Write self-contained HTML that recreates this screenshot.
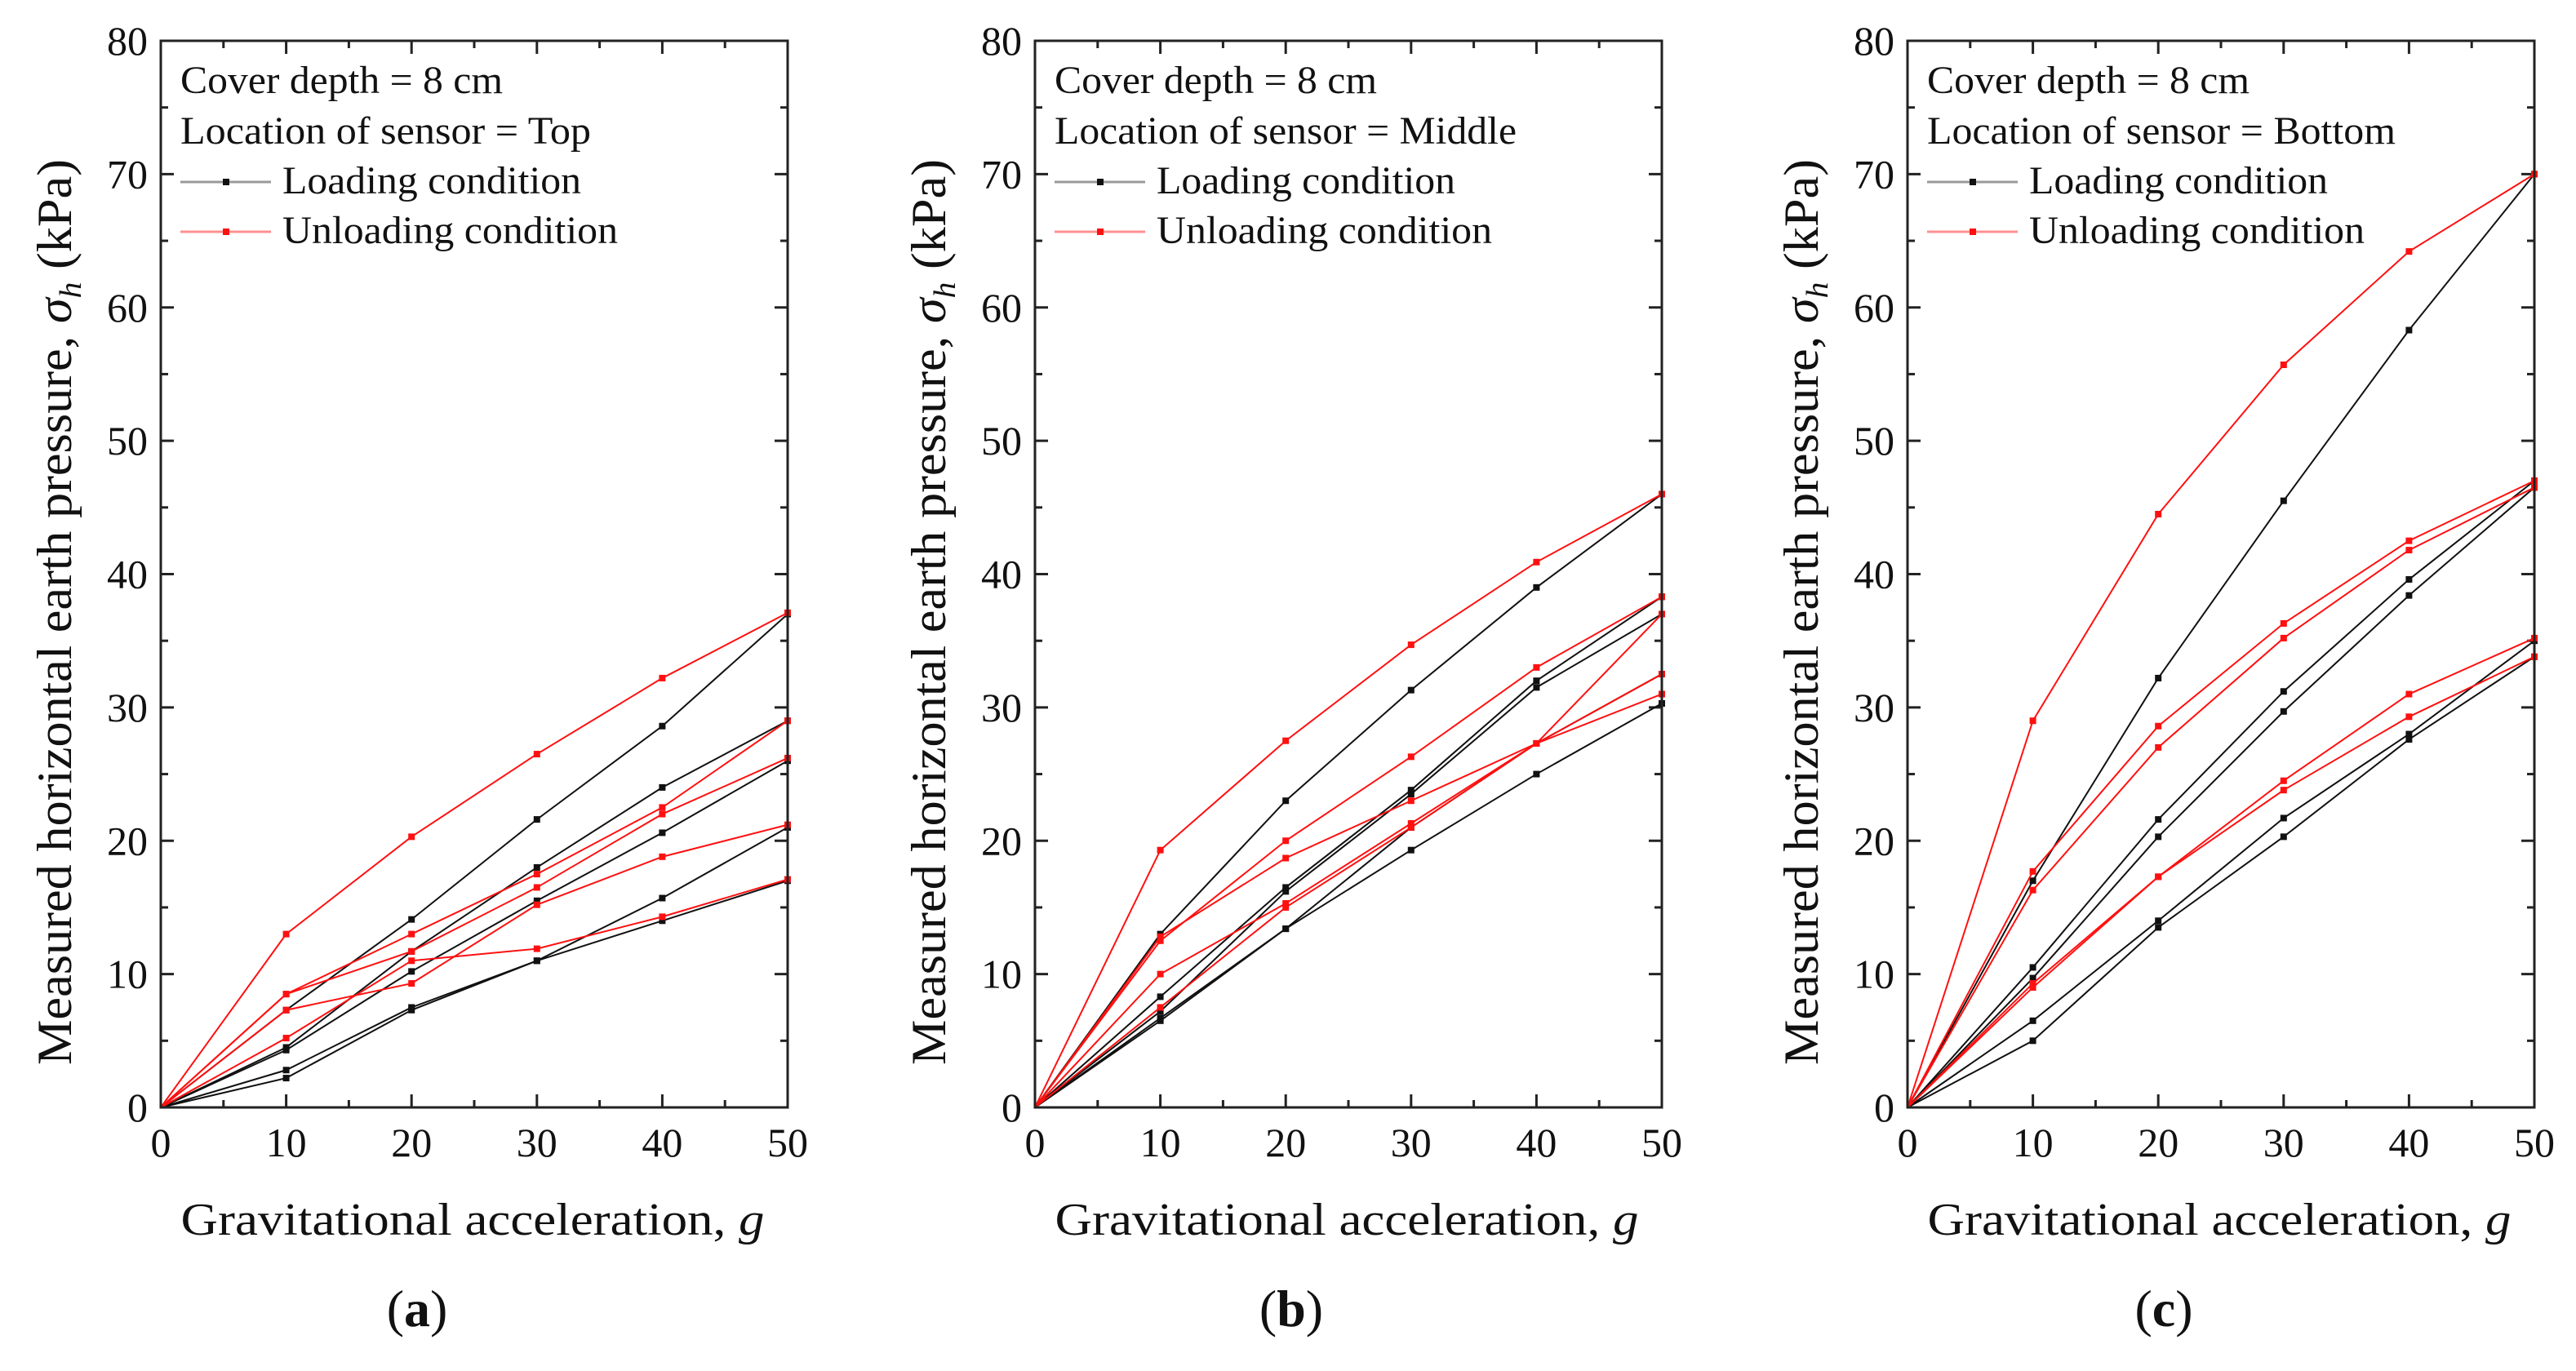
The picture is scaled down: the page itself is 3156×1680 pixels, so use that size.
<!DOCTYPE html>
<html><head><meta charset="utf-8"><style>
html,body{margin:0;padding:0;background:#fff;}
svg, svg text{font-family:"Liberation Serif","Times New Roman",serif;}
</style></head><body>
<svg id="fig" width="3156" height="1675" viewBox="0 0 3156 1675" xmlns="http://www.w3.org/2000/svg" font-family="Liberation Serif, serif"></svg>
<script>
const xCats = [0, 10, 20, 30, 40, 50];
const yTicks = [0, 10, 20, 30, 40, 50, 60, 70, 80];
const xTicks = [0, 10, 20, 30, 40, 50];
const sensors = ["Top", "Middle", "Bottom"];
const panelLabels = ["a", "b", "c"];
// Panel (a) Top
const aLoad = [
  [0, 7.3, 14.1, 21.6, 28.6, 37],
  [0, 4.5, 11.7, 18, 24, 29],
  [0, 4.3, 10.2, 15.5, 20.6, 26],
  [0, 2.8, 7.5, 11, 15.7, 21],
  [0, 2.2, 7.3, 11, 14, 17]
];
const aUnload = [
  [0, 13, 20.3, 26.5, 32.2, 37.1],
  [0, 8.5, 13, 17.5, 22.5, 29],
  [0, 8.5, 11.7, 16.5, 22, 26.2],
  [0, 7.3, 9.3, 15.2, 18.8, 21.2],
  [0, 5.2, 11, 11.9, 14.3, 17.1]
];
// Panel (b) Middle
const bLoad = [
  [0, 13, 23, 31.3, 39, 46],
  [0, 8.3, 16.5, 23.8, 32, 38.3],
  [0, 7.2, 16.2, 23.5, 31.5, 37],
  [0, 6.7, 13.4, 21, 27.3, 32.5],
  [0, 6.5, 13.4, 19.3, 25, 30.3]
];
const bUnload = [
  [0, 19.3, 27.5, 34.7, 40.9, 46],
  [0, 12.5, 20, 26.3, 33, 38.3],
  [0, 12.8, 18.7, 23, 27.3, 32.5],
  [0, 10, 15.3, 21.3, 27.3, 37],
  [0, 7.5, 15, 21, 27.3, 31]
];
// Panel (c) Bottom
const cLoad = [
  [0, 17, 32.2, 45.5, 58.3, 70],
  [0, 10.5, 21.6, 31.2, 39.6, 47],
  [0, 9.7, 20.3, 29.7, 38.4, 46.5],
  [0, 6.5, 14, 21.7, 28, 35],
  [0, 5, 13.5, 20.3, 27.6, 33.8]
];
const cUnload = [
  [0, 29, 44.5, 55.7, 64.2, 70],
  [0, 17.7, 28.6, 36.3, 42.5, 47],
  [0, 16.3, 27, 35.2, 41.8, 46.5],
  [0, 9.3, 17.3, 24.5, 31, 35.2],
  [0, 9, 17.3, 23.8, 29.3, 33.8]
];

const NS = "http://www.w3.org/2000/svg";
const svg = document.getElementById("fig");
function mk(tag, attrs, parent) {
  const e = document.createElementNS(NS, tag);
  for (const k in attrs) e.setAttribute(k, attrs[k]);
  if (tag === "text") e.setAttribute("font-family", "Liberation Serif, serif");
  (parent || svg).appendChild(e);
  return e;
}
const lefts = [197, 1268, 2337];
const W = 768, TOP = 50, BOT = 1357;
const loads = [aLoad, bLoad, cLoad];
const unloads = [aUnload, bUnload, cUnload];
const sensorLen = [503, 566, 574];

lefts.forEach((L, p) => {
  const g = mk("g", {});
  
  
  const xs = v => L + v / 50 * W;
  const ys = v => BOT - v / 80 * (BOT - TOP);
  for (let v = 0; v <= 80; v += 5) {
    const len = v % 10 === 0 ? 16 : 9;
    mk("line", {x1: L, x2: L + len, y1: ys(v), y2: ys(v), stroke: "#222", "stroke-width": 3}, g);
    mk("line", {x1: L + W, x2: L + W - len, y1: ys(v), y2: ys(v), stroke: "#222", "stroke-width": 3}, g);
  }
  for (let v = 0; v <= 50; v += 5) {
    const len = v % 10 === 0 ? 16 : 9;
    mk("line", {x1: xs(v), x2: xs(v), y1: BOT, y2: BOT - len, stroke: "#222", "stroke-width": 3}, g);
    mk("line", {x1: xs(v), x2: xs(v), y1: TOP, y2: TOP + len, stroke: "#222", "stroke-width": 3}, g);
  }
  yTicks.forEach(v => {
    const t = mk("text", {x: L - 16, y: ys(v) + 17, "font-size": 50, "text-anchor": "end", fill: "#111"}, g);
    
    
    t.textContent = v;
  });
  xTicks.forEach(v => {
    const t = mk("text", {x: xs(v), y: 1417, "font-size": 50, "text-anchor": "middle", fill: "#111"}, g);
    
    
    t.textContent = v;
  });
  const drawSeries = (arr, color, nm) => {
    arr.forEach((s, i) => {
      const pts = s.map((v, j) => xs(xCats[j]) + "," + ys(v)).join(" ");
      const pl = mk("polyline", {points: pts, fill: "none", stroke: color, "stroke-width": 2}, g);
      
      
      s.forEach((v, j) => {
        if (j === 0) return;
        const r = mk("rect", {x: xs(xCats[j]) - 4, y: ys(v) - 4, width: 8, height: 8, fill: color}, g);
        
        
      });
    });
  };
  drawSeries(loads[p], "#111", "loading");
  drawSeries(unloads[p], "#ff1010", "unloading");
  const fr = mk("rect", {x: L, y: TOP, width: W, height: BOT - TOP, fill: "none", stroke: "#222", "stroke-width": 3}, g);
  
  
  const lg = mk("g", {}, g);
  
  
  const t1 = mk("text", {x: L + 24, y: 114, "font-size": 48, fill: "#111", textLength: 395, lengthAdjust: "spacingAndGlyphs"}, lg);
  t1.textContent = "Cover depth = 8 cm";
  const t2 = mk("text", {x: L + 24, y: 176, "font-size": 48, fill: "#111", textLength: sensorLen[p], lengthAdjust: "spacingAndGlyphs"}, lg);
  t2.textContent = "Location of sensor = " + sensors[p];
  [["#111", "#999", "Loading condition", 237, 366], ["#ff1010", "#ff9090", "Unloading condition", 298, 411]].forEach(([c, lc, lab, yb, tl]) => {
    const yy = yb - 14;
    const ent = mk("g", {}, lg);
    
    
    mk("line", {x1: L + 24, x2: L + 135, y1: yy, y2: yy, stroke: lc, "stroke-width": 3}, ent);
    mk("rect", {x: L + 76, y: yy - 4, width: 8, height: 8, fill: c}, ent);
    const t = mk("text", {x: L + 149, y: yb, "font-size": 48, fill: "#111", textLength: tl, lengthAdjust: "spacingAndGlyphs"}, ent);
    t.textContent = lab;
  });
  const xt = mk("text", {x: L + W / 2 - 2, y: 1513, "font-size": 56, "text-anchor": "middle", fill: "#111", textLength: 715, lengthAdjust: "spacingAndGlyphs"}, g);
  
  
  xt.innerHTML = 'Gravitational acceleration, <tspan font-style="italic">g</tspan>';
  const yt = mk("text", {x: 0, y: 0, "font-size": 60, "text-anchor": "middle", fill: "#111", textLength: 1110, lengthAdjust: "spacingAndGlyphs", transform: `translate(${L - 110},750) rotate(-90)`}, g);
  
  
  yt.innerHTML = 'Measured horizontal earth pressure, <tspan font-style="italic">σ</tspan><tspan font-style="italic" font-size="38" dy="12">h</tspan><tspan dy="-12"> (kPa)</tspan>';
  const pl = mk("text", {x: L + W / 2 - 70, y: 1625, "font-size": 64, "text-anchor": "middle", fill: "#111"}, g);
  
  
  pl.innerHTML = '(<tspan font-weight="bold">' + panelLabels[p] + '</tspan>)';
});
</script>
</body></html>
